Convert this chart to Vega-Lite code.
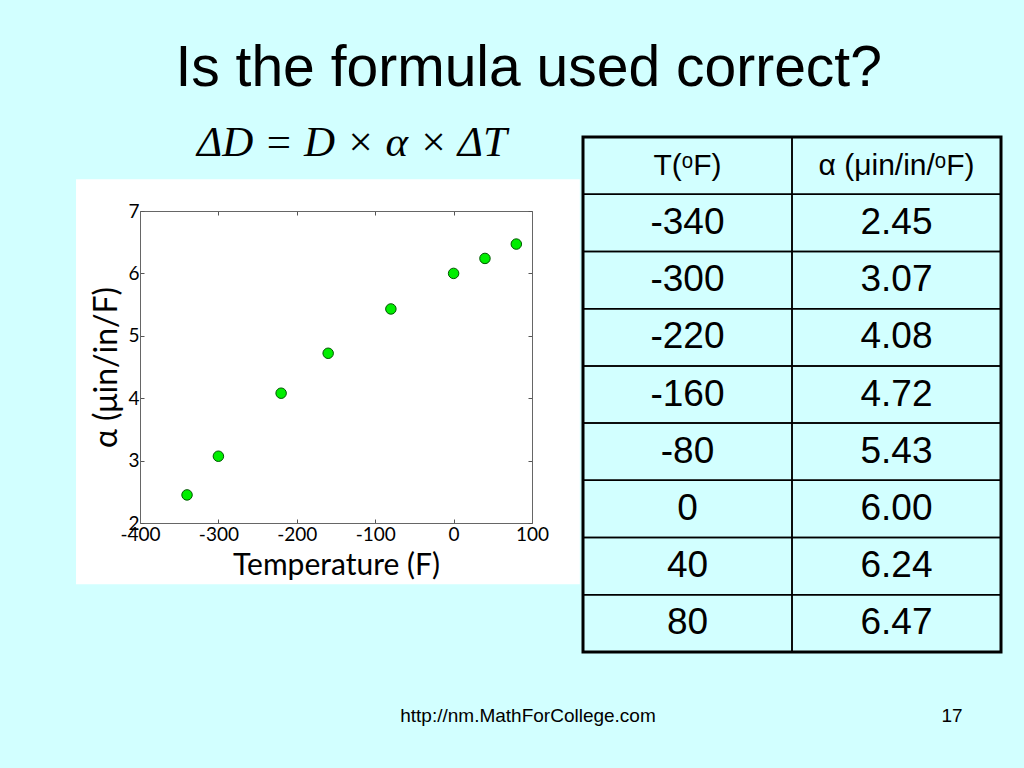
{
  "$schema": "https://vega.github.io/schema/vega-lite/v6.json",
  "background": "#D2FFFF",
  "padding": {"left": 76, "top": 40, "right": 24, "bottom": 51},
  "config": {"view": {"stroke": null}},
  "title": {"text": "Is the formula used correct?", "font": "Liberation Sans", "fontSize": 57, "fontWeight": "normal", "color": "black", "anchor": "middle", "dx": -11, "offset": 24},
  "spacing": 51,
  "vconcat": [
    {
      "spacing": 0,
      "hconcat": [
        {
          "spacing": 0,
          "vconcat": [
            {
              "width": 392,
              "height": 42,
              "data": {"values": [{"formula": "ΔD = D × α × ΔT"}]},
              "mark": {"type": "text", "font": "Liberation Serif", "fontStyle": "italic", "fontSize": 43, "color": "black", "baseline": "middle", "dx": 16, "dy": -15},
              "encoding": {"text": {"field": "formula"}}
            },
            {
              "width": 392,
              "height": 312,
              "data": {"values": [
                {"T": -340, "alpha": 2.45},
                {"T": -300, "alpha": 3.07},
                {"T": -220, "alpha": 4.08},
                {"T": -160, "alpha": 4.72},
                {"T": -80, "alpha": 5.43},
                {"T": 0, "alpha": 6.00},
                {"T": 40, "alpha": 6.24},
                {"T": 80, "alpha": 6.47}
              ]},
              "layer": [
                {
                  "data": {"values": [{}]},
                  "mark": {"type": "rect", "fill": "white", "strokeWidth": 0},
                  "encoding": {
                    "x": {"datum": -481.6, "type": "quantitative", "axis": null},
                    "x2": {"datum": 161},
                    "y": {"datum": 7.51, "type": "quantitative", "axis": null},
                    "y2": {"datum": 1.02}
                  }
                },
                {
                  "mark": {"type": "point", "opacity": 0},
                  "encoding": {
                    "x": {"field": "T", "type": "quantitative", "scale": {"domain": [-400, 100], "nice": false, "zero": false},
                      "axis": {"orient": "top", "zindex": 1, "values": [-400, -300, -200, -100, 0, 100], "labels": false, "title": null, "grid": false, "tickSize": -4, "tickColor": "#555555", "domainColor": "#666666"}},
                    "y": {"field": "alpha", "type": "quantitative", "scale": {"domain": [2, 7], "nice": false, "zero": false},
                      "axis": {"orient": "right", "zindex": 1, "values": [2, 3, 4, 5, 6, 7], "labels": false, "title": null, "grid": false, "tickSize": -4, "tickColor": "#555555", "domainColor": "#666666"}}
                  }
                },
                {
                  "mark": {"type": "point", "filled": true, "fill": "#00EE00", "stroke": "#005500", "strokeWidth": 1, "size": 110, "opacity": 1},
                  "encoding": {
                    "x": {"field": "T", "type": "quantitative",
                      "axis": {"orient": "bottom", "zindex": 1, "values": [-400, -300, -200, -100, 0, 100], "labelExpr": "'' + datum.value", "grid": false, "labelFlush": false, "labelOverlap": false, "labelFont": "Lato", "labelFontSize": 19, "labelColor": "black", "labelPadding": 6, "tickSize": -4, "tickColor": "#555555", "domainColor": "#666666", "title": "Temperature (F)", "titleFont": "Lato", "titleFontSize": 30, "titleFontWeight": "normal", "titleColor": "black", "titlePadding": 6}},
                    "y": {"field": "alpha", "type": "quantitative",
                      "axis": {"orient": "left", "zindex": 1, "values": [2, 3, 4, 5, 6, 7], "labelExpr": "'' + datum.value", "grid": false, "labelFont": "Lato", "labelFontSize": 19, "labelColor": "black", "labelPadding": 5, "tickSize": -4, "tickColor": "#555555", "domainColor": "#666666", "title": "α (μin/in/F)", "titleFont": "Lato", "titleFontSize": 32, "titleFontWeight": "normal", "titleColor": "black", "titlePadding": 4}}
                  }
                }
              ],
              "resolve": {"axis": {"x": "independent", "y": "independent"}}
            }
          ]
        },
        {
          "width": 418,
          "height": 515,
          "view": {"stroke": "black", "strokeWidth": 3},
          "data": {"values": [
            {"row": 0, "col": "a", "label": "T(ᵒF)"},
            {"row": 0, "col": "b", "label": "α (μin/in/ᵒF)"},
            {"row": 1, "col": "a", "label": "-340"},
            {"row": 1, "col": "b", "label": "2.45"},
            {"row": 2, "col": "a", "label": "-300"},
            {"row": 2, "col": "b", "label": "3.07"},
            {"row": 3, "col": "a", "label": "-220"},
            {"row": 3, "col": "b", "label": "4.08"},
            {"row": 4, "col": "a", "label": "-160"},
            {"row": 4, "col": "b", "label": "4.72"},
            {"row": 5, "col": "a", "label": "-80"},
            {"row": 5, "col": "b", "label": "5.43"},
            {"row": 6, "col": "a", "label": "0"},
            {"row": 6, "col": "b", "label": "6.00"},
            {"row": 7, "col": "a", "label": "40"},
            {"row": 7, "col": "b", "label": "6.24"},
            {"row": 8, "col": "a", "label": "80"},
            {"row": 8, "col": "b", "label": "6.47"}
          ]},
          "encoding": {
            "x": {"field": "col", "type": "nominal", "axis": null, "scale": {"domain": ["a", "b"], "paddingInner": 0, "paddingOuter": 0}},
            "y": {"field": "row", "type": "ordinal", "axis": null, "scale": {"paddingInner": 0, "paddingOuter": 0}}
          },
          "layer": [
            {"mark": {"type": "rect", "fill": "transparent", "stroke": "black", "strokeWidth": 1.5}},
            {
              "mark": {"type": "text", "font": "Liberation Sans", "color": "black", "baseline": "middle"},
              "encoding": {
                "text": {"field": "label"},
                "size": {"condition": {"test": "datum.row == 0", "value": 30}, "value": 37}
              }
            }
          ]
        }
      ]
    },
    {
      "width": 812,
      "height": 20,
      "data": {"values": [
        {"slot": "url", "label": "http://nm.MathForCollege.com"},
        {"slot": "page", "label": "17"}
      ]},
      "mark": {"type": "text", "font": "Liberation Sans", "fontSize": 19, "color": "black"},
      "encoding": {
        "x": {"field": "slot", "type": "nominal", "axis": null, "scale": {"type": "point", "domain": ["url", "page"], "padding": 0.4575, "align": 1}},
        "text": {"field": "label"}
      }
    }
  ]
}
